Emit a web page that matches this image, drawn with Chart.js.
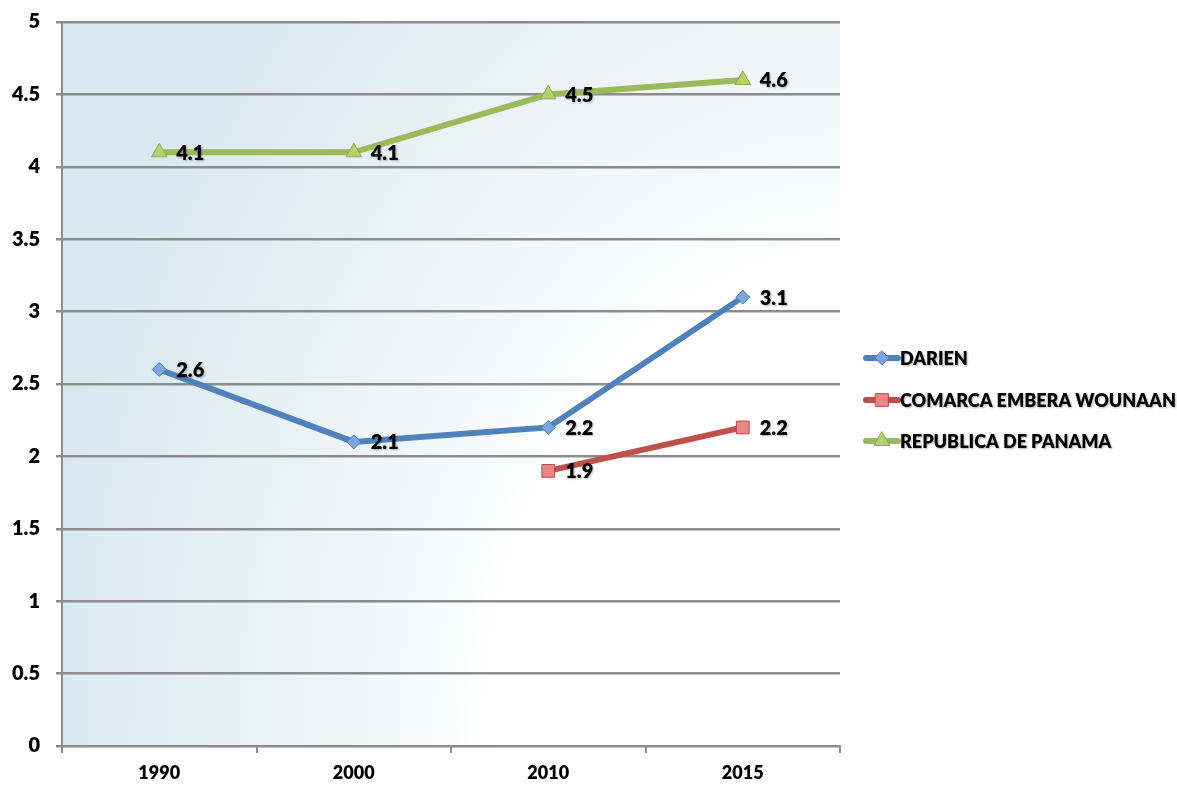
<!DOCTYPE html>
<html>
<head>
<meta charset="utf-8">
<script src="https://cdn.jsdelivr.net/npm/chart.js@4"></script>
<style>
  html, body { margin: 0; padding: 0; background: #fff; }
  #wrap { width: 1177px; height: 798px; }
</style>
</head>
<body>
<div id="wrap"><canvas id="tasaChart" width="1177" height="798"></canvas></div>
<script>
var years = ["1990", "2000", "2010", "2015"];
var darien = [2.6, 2.1, 2.2, 3.1];
var comarca = [null, null, 1.9, 2.2];
var panama = [4.1, 4.1, 4.5, 4.6];
var yTicks = [0, 0.5, 1, 1.5, 2, 2.5, 3, 3.5, 4, 4.5, 5];

var FONT = "Lato, 'Open Sans', sans-serif";
var WEIGHT = "800";

// soft blue wash behind the plot area, an elliptical fade to white
// centred on the bottom right corner
var plotBackground = {
    id: "plotBackground",
    beforeDraw: function (chart) {
        var a = chart.chartArea;
        var ctx = chart.ctx;
        var cx = a.right, cy = a.bottom, k = 0.72;
        ctx.save();
        ctx.translate(cx, cy);
        ctx.scale(1, 1 / k);
        var g = ctx.createRadialGradient(0, 0, 0, 0, 0, 800);
        g.addColorStop(0, "#ffffff");
        g.addColorStop(350 / 800, "#ffffff");
        g.addColorStop(430 / 800, "#f5f9fa");
        g.addColorStop(560 / 800, "#ebf3f6");
        g.addColorStop(700 / 800, "#e0edf2");
        g.addColorStop(1, "#d9e9ef");
        ctx.fillStyle = g;
        ctx.fillRect(a.left - cx, (a.top - cy) * k, a.right - a.left, (a.bottom - a.top) * k);
        ctx.restore();
    },
};

function textShadow(ctx) {
    ctx.shadowColor = "rgba(0,0,0,0.3)";
    ctx.shadowBlur = 2;
    ctx.shadowOffsetX = 1;
    ctx.shadowOffsetY = 1;
}

// value labels to the right of each point
var valueLabels = {
    id: "valueLabels",
    afterDatasetsDraw: function (chart) {
        var ctx = chart.ctx;
        ctx.save();
        ctx.font = WEIGHT + " 20px " + FONT;
        ctx.fillStyle = "#000";
        ctx.textAlign = "left";
        ctx.textBaseline = "middle";
        textShadow(ctx);
        chart.data.datasets.forEach(function (ds, i) {
            var meta = chart.getDatasetMeta(i);
            meta.data.forEach(function (pt, j) {
                var v = ds.data[j];
                if (v === null || v === undefined) return;
                ctx.fillText(v.toFixed(1), pt.x + 17, pt.y + 1);
            });
        });
        ctx.restore();
    },
};

function drawMarker(ctx, style, r, x, y) {
    if (style === "rectRot") {
        ctx.moveTo(x, y - r);
        ctx.lineTo(x + r, y);
        ctx.lineTo(x, y + r);
        ctx.lineTo(x - r, y);
        ctx.closePath();
    } else if (style === "rect") {
        var s = r * Math.SQRT1_2;
        ctx.rect(x - s, y - s, 2 * s, 2 * s);
    } else {
        ctx.moveTo(x, y - r);
        ctx.lineTo(x + r * 0.87, y + r * 0.5);
        ctx.lineTo(x - r * 0.87, y + r * 0.5);
        ctx.closePath();
    }
}

// legend on the right: line segment + marker + name
var sideLegend = {
    id: "sideLegend",
    afterDraw: function (chart) {
        var ctx = chart.ctx;
        var x0 = 866, x1 = 898, rowY = [358, 400, 441];
        ctx.save();
        chart.data.datasets.forEach(function (ds, i) {
            var y = rowY[i];
            ctx.strokeStyle = ds.borderColor;
            ctx.lineWidth = 6;
            ctx.lineCap = "round";
            ctx.beginPath();
            ctx.moveTo(x0, y);
            ctx.lineTo(x1, y);
            ctx.stroke();
            ctx.fillStyle = ds.pointBackgroundColor;
            ctx.strokeStyle = ds.pointBorderColor;
            ctx.lineWidth = 1;
            ctx.beginPath();
            drawMarker(ctx, ds.pointStyle, ds.pointRadius, (x0 + x1) / 2, y);
            ctx.fill();
            ctx.stroke();
            ctx.save();
            ctx.font = WEIGHT + " 18px " + FONT;
            ctx.fillStyle = "#000";
            ctx.textBaseline = "middle";
            ctx.textAlign = "left";
            textShadow(ctx);
            ctx.fillText(ds.label, x1 + 2, y + 1);
            ctx.restore();
        });
        ctx.restore();
    },
};

var ctx = document.getElementById("tasaChart").getContext("2d");

new Chart(ctx, {
    type: "line",
    data: {
        labels: years,
        datasets: [
            {
                label: "DARIEN",
                data: darien,
                borderColor: "#4f81bd",
                borderWidth: 6,
                pointStyle: "rectRot",
                pointRadius: 7,
                pointBackgroundColor: "#7ea6de",
                pointBorderColor: "#4a7ebb",
                pointBorderWidth: 1,
            },
            {
                label: "COMARCA EMBERA WOUNAAN",
                data: comarca,
                borderColor: "#c0504d",
                borderWidth: 6,
                pointStyle: "rect",
                pointRadius: 9,
                pointBackgroundColor: "#ec8683",
                pointBorderColor: "#b64b48",
                pointBorderWidth: 1,
            },
            {
                label: "REPUBLICA DE PANAMA",
                data: panama,
                borderColor: "#9bbb59",
                borderWidth: 6,
                pointStyle: "triangle",
                pointRadius: 9,
                pointBackgroundColor: "#b3d173",
                pointBorderColor: "#8cac4a",
                pointBorderWidth: 1,
            },
        ],
    },
    options: {
        responsive: false,
        animation: false,
        layout: {
            padding: { top: 0, right: 337, left: 0, bottom: 0 },
        },
        elements: {
            line: { tension: 0 },
        },
        scales: {
            x: {
                offset: true,
                afterFit: function (s) {
                    s.height = 52;
                    s.paddingLeft = 0;
                    s.paddingRight = 0;
                },
                grid: {
                    offset: true,
                    drawOnChartArea: false,
                    drawTicks: true,
                    tickLength: 7,
                    color: "#8c8c8c",
                    lineWidth: 2,
                },
                border: { color: "#8c8c8c", width: 2 },
                ticks: {
                    color: "#000",
                    padding: 9,
                    font: { family: FONT, size: 18, weight: WEIGHT },
                },
            },
            y: {
                min: 0,
                max: 5,
                afterFit: function (s) {
                    s.width = 62;
                    s.paddingTop = 22;
                    s.paddingBottom = 0;
                },
                afterBuildTicks: function (s) {
                    s.ticks = yTicks.map(function (v) { return { value: v }; });
                },
                grid: {
                    color: "#8c8c8c",
                    lineWidth: 2.5,
                    tickLength: 6,
                },
                border: { color: "#8c8c8c", width: 2 },
                ticks: {
                    color: "#000",
                    padding: 16,
                    font: { family: FONT, size: 20, weight: WEIGHT },
                    callback: function (v) { return String(v); },
                },
            },
        },
        plugins: {
            legend: { display: false },
            tooltip: { enabled: false },
        },
    },
    plugins: [plotBackground, valueLabels, sideLegend],
});
</script>
</body>
</html>
